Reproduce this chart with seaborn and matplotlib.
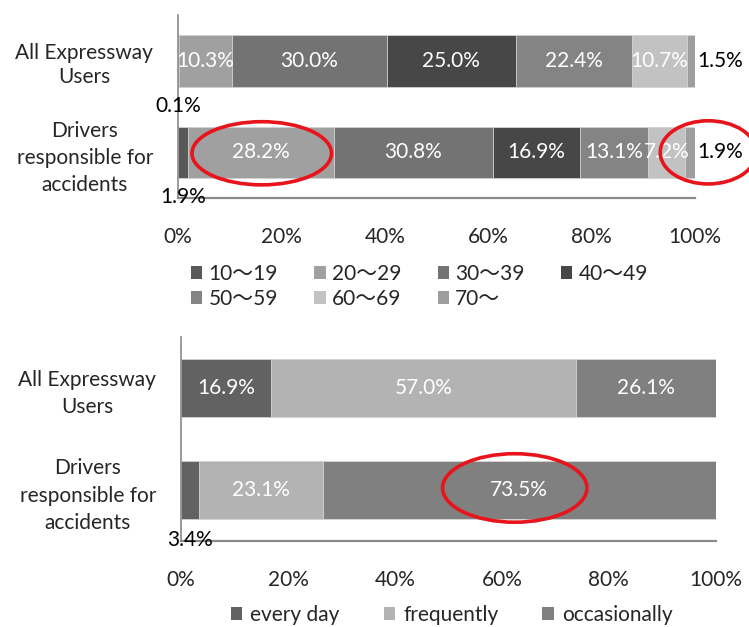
import matplotlib.pyplot as plt
import seaborn as sns
import numpy as np
from matplotlib.patches import Ellipse, Patch

# Data
groups = ['All Expressway\nUsers', 'Drivers\nresponsible for\naccidents']

age_labels = ['10～19', '20～29', '30～39', '40～49', '50～59', '60～69', '70～']
age_all = [0.1, 10.3, 30.0, 25.0, 22.4, 10.7, 1.5]
age_drivers = [1.9, 28.2, 30.8, 16.9, 13.1, 7.2, 1.9]
age_colors = ['#595959', '#a0a0a0', '#737373', '#474747', '#848484', '#c2c2c2', '#9e9e9e']

freq_labels = ['every day', 'frequently', 'occasionally']
freq_all = [16.9, 57.0, 26.1]
freq_drivers = [3.4, 23.1, 73.5]
freq_colors = ['#626262', '#b3b3b3', '#808080']

sns.set_style('white')
plt.rcParams['font.family'] = ['Lato', 'Noto Sans CJK JP', 'DejaVu Sans']
FS = 15


def stacked(ax, rows, colors, height, linesp):
    vals = np.array(rows)
    cum = vals.cumsum(axis=1)
    # draw the longest (cumulative) bars first so each segment overlays the next
    for i in range(vals.shape[1] - 1, -1, -1):
        sns.barplot(x=cum[:, i], y=groups, order=groups, color=colors[i], orient='h',
                    width=height, saturation=1, edgecolor='#d6d6d6', linewidth=0.6, ax=ax)
    n = vals.shape[1]
    for r in range(vals.shape[0]):
        for i in range(n):
            v = vals[r, i]
            mid = cum[r, i] - v / 2
            txt = f'{v:.1f}%'
            if v < 5 and i == 0:
                ax.text(mid, r + 0.49, txt, ha='center', va='center', fontsize=FS, color='black')
            elif v < 5 and i == n - 1:
                ax.text(100.4, r, txt, ha='left', va='center', fontsize=FS, color='black')
            else:
                ax.text(mid, r, txt, ha='center', va='center', fontsize=FS, color='white')
    ax.set_xlim(0, 100)
    ax.set_ylim(1.5, -0.5)
    ax.set_xticks(range(0, 101, 20))
    ax.set_xticklabels([f'{t}%' for t in range(0, 101, 20)], fontsize=FS)
    ax.set_yticks([0, 1])
    ax.set_yticklabels(groups, fontsize=FS, multialignment='center')
    for lab, ls in zip(ax.get_yticklabels(), linesp):
        lab.set_linespacing(ls)
    ax.set_xlabel('')
    ax.set_ylabel('')
    ax.tick_params(axis='x', length=0, pad=21)
    ax.tick_params(axis='y', length=0, pad=18)
    for s in ['top', 'right']:
        ax.spines[s].set_visible(False)
    ax.spines['left'].set_color('#8a8a8a')
    ax.spines['left'].set_linewidth(1.2)
    ax.spines['bottom'].set_color('#8a8a8a')
    ax.spines['bottom'].set_linewidth(1.6)


fig = plt.figure(figsize=(7.49, 6.27), dpi=100)
ax1 = fig.add_axes([0.2377, 0.684, 0.690, 0.292])
ax2 = fig.add_axes([0.2417, 0.137, 0.714, 0.326])

stacked(ax1, [age_all, age_drivers], age_colors, 0.565, [1.25, 1.45])
stacked(ax2, [freq_all, freq_drivers], freq_colors, 0.57, [1.42, 1.45])

# red highlight ellipses
red = '#e8141c'
for ax, (cx, cy, w, h) in [(ax1, (16.2, 1.01, 27.0, 0.69)),
                           (ax1, (102.6, 1.0, 18.6, 0.69)),
                           (ax2, (62.4, 0.98, 27.0, 0.67))]:
    ax.add_patch(Ellipse((cx, cy), w, h, fill=False, edgecolor=red, linewidth=2.6,
                         clip_on=False, zorder=5))

# legends (reordered so entries run row by row)
order = [0, 4, 1, 5, 2, 6, 3]
h1 = [Patch(facecolor=age_colors[i], edgecolor='none') for i in order]
fig.legend(h1, [age_labels[i] for i in order], loc='upper left', bbox_to_anchor=(0.241, 0.596),
           ncol=4, frameon=False, fontsize=FS, handlelength=0.55, handleheight=0.55,
           handletextpad=0.3, columnspacing=1.74, labelspacing=0.25, borderpad=0)
h2 = [Patch(facecolor=c, edgecolor='none') for c in freq_colors]
fig.legend(h2, freq_labels, loc='center', bbox_to_anchor=(0.603, 0.019), ncol=3,
           frameon=False, fontsize=FS, handlelength=0.55, handleheight=0.55,
           handletextpad=0.4, columnspacing=2.1, borderpad=0)

fig.savefig('out.png', dpi=100)
